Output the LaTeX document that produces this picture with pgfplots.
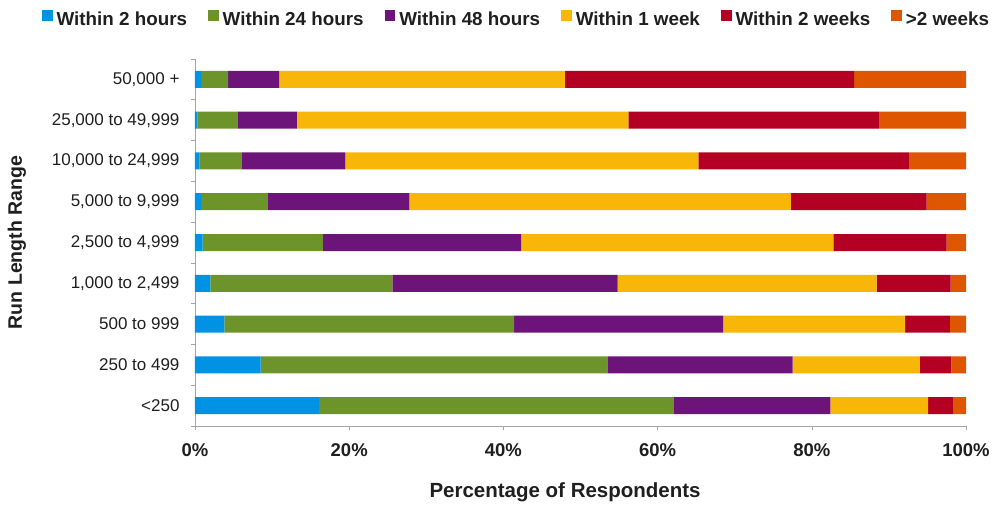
\documentclass[border=0pt]{standalone}
\usepackage{pgfplots}
\pgfplotsset{compat=1.18}
\usepackage{pgfplotstable}
\usepackage{fontspec}
\setmainfont{Liberation Sans}
\definecolor{cBlue}{RGB}{0,146,228}
\definecolor{cGreen}{RGB}{108,148,42}
\definecolor{cPurple}{RGB}{108,20,122}
\definecolor{cYellow}{RGB}{248,182,8}
\definecolor{cRed}{RGB}{180,0,34}
\definecolor{cOrange}{RGB}{222,86,0}
\definecolor{axgray}{RGB}{165,165,165}
\pgfplotstableread{
y  h2    h24   h48   w1    w2    more
0  16.1  46.0  20.3  12.7  3.2   1.7
1  8.5   45.0  24.0  16.5  4.1   1.9
2  3.8   37.6  27.1  23.6  5.8   2.1
3  2.0   23.6  29.2  33.6  9.6   2.0
4  1.0   15.6  25.7  40.5  14.7  2.5
5  0.8   8.6   18.4  49.5  17.6  5.1
6  0.6   5.4   13.5  45.8  27.3  7.4
7  0.3   5.2   7.7   43.0  32.5  11.3
8  0.8   3.5   6.6   37.1  37.5  14.5
}\datatable
\pgfplotsset{
  barstyle/.style={draw=none, fill=#1,
    legend image code/.code={\path[##1,draw=none] (0pt,-2pt) rectangle (10.7pt,8.5pt);}},
}
\begin{document}
\begin{tikzpicture}
\path[use as bounding box] (0,0) rectangle (996pt,504pt);
\begin{axis}[
  at={(195pt,78pt)}, anchor=south west,
  scale only axis, width=771pt, height=367pt,
  xbar stacked, bar width=17pt,
  xmin=0, xmax=100, ymin=-0.5, ymax=8.5,
  axis x line*=bottom, axis y line*=left,
  axis line style={axgray, line width=0.8pt},
  xtick={0,20,40,60,80,100},
  xticklabels={0\%,20\%,40\%,60\%,80\%,100\%},
  ytick={0,...,8},
  yticklabels={{<250},{250 to 499},{500 to 999},{1,000 to 2,499},{2,500 to 4,999},{5,000 to 9,999},{10,000 to 24,999},{25,000 to 49,999},{50,000 +}},
  minor ytick={-0.5,0.5,...,8.5},
  major y tick style={draw=none},
  minor y tick style={axgray, line width=0.6pt},
  major x tick style={axgray, line width=0.6pt},
  tick align=outside, major tick length=4pt, minor tick length=4pt,
  x tick label style={font=\bfseries\fontsize{18.5}{22}\selectfont, yshift=-10pt, text=black!88},
  y tick label style={font=\fontsize{17}{20}\selectfont, xshift=-8pt, text=black!88},
  xlabel={Percentage of Respondents},
  ylabel={Run Length Range},
  xlabel style={font=\bfseries\fontsize{20.5}{24}\selectfont, at={(axis description cs:0.48,-0.1798)}, anchor=center, text=black!88},
  ylabel style={font=\bfseries\fontsize{19.5}{24}\selectfont, at={(axis description cs:-0.2309,0.5)}, anchor=center, text=black!88},
  legend columns=-1,
  legend style={draw=none, fill=none, at={(axis description cs:0.4157,1.109)}, anchor=center,
    font=\bfseries\fontsize{18.8}{22}\selectfont, text=black!88,
    nodes={inner xsep=0pt},
    /tikz/every odd column/.append style={column sep=4pt},
    /tikz/every even column/.append style={column sep=21pt}},
]
\addplot[barstyle=cBlue] table[x=h2,y=y]{\datatable};
\addplot[barstyle=cGreen] table[x=h24,y=y]{\datatable};
\addplot[barstyle=cPurple] table[x=h48,y=y]{\datatable};
\addplot[barstyle=cYellow] table[x=w1,y=y]{\datatable};
\addplot[barstyle=cRed] table[x=w2,y=y]{\datatable};
\addplot[barstyle=cOrange] table[x=more,y=y]{\datatable};
\legend{Within 2 hours, Within 24 hours, Within 48 hours, Within 1 week, Within 2 weeks, >2 weeks}
\end{axis}
\end{tikzpicture}
\end{document}
